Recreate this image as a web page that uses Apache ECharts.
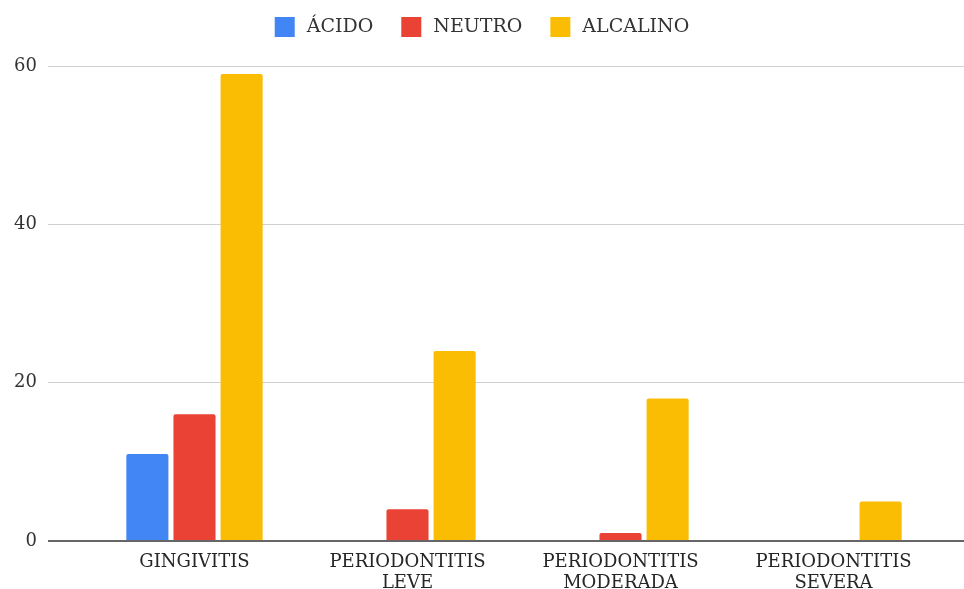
<!DOCTYPE html>
<html>
<head>
<meta charset="utf-8">
<script src="https://cdn.jsdelivr.net/npm/echarts@6/dist/echarts.min.js"></script>
<style>
  html, body { margin: 0; padding: 0; background: #fff; }
  #chart { width: 964px; height: 589px; }
</style>
</head>
<body>
<div id="chart"></div>
<script>
const categories = ['GINGIVITIS', 'PERIODONTITIS\nLEVE', 'PERIODONTITIS\nMODERADA', 'PERIODONTITIS\nSEVERA'];
const acido = [11, 0, 0, 0];
const neutro = [16, 4, 1, 0];
const alcalino = [59, 24, 18, 5];
const seriesNames = ['ÁCIDO', 'NEUTRO', 'ALCALINO'];
const colors = ['#4285F4', '#EA4335', '#FBBC04'];
const yMin = 0, yMax = 60, yStep = 20;

const FONT = 'DejaVu Serif';
const chart = echarts.init(document.getElementById('chart'));

function barSeries(name, data, color) {
  return {
    name, type: 'bar', data,
    xAxisIndex: 1, yAxisIndex: 1,
    barGap: '12%', barCategoryGap: '36%',
    itemStyle: { color, borderRadius: [2, 2, 0, 0] }
  };
}

chart.setOption({
  animation: false,
  textStyle: { fontFamily: FONT },
  legend: {
    top: 12, left: 'center',
    itemWidth: 20, itemHeight: 20, itemGap: 28,
    icon: 'rect',
    textStyle: { fontFamily: FONT, fontSize: 19, color: '#333', padding: [0, 0, 0, 7] },
    data: seriesNames
  },
  grid: [
    { left: 48, right: 0, top: 66, bottom: 48, outerBoundsMode: 'none' },
    { left: 88, right: 24, top: 66, bottom: 48, outerBoundsMode: 'none' }
  ],
  xAxis: [
    { type: 'value', gridIndex: 0, min: 0, max: 1, show: true,
      axisLine: { show: false }, axisTick: { show: false }, axisLabel: { show: false }, splitLine: { show: false } },
    { type: 'category', gridIndex: 1, data: categories,
      axisLine: { show: false }, axisTick: { show: false },
      axisLabel: { fontFamily: FONT, fontSize: 18, color: '#262626', margin: 11, lineHeight: 21, interval: 0 } }
  ],
  yAxis: [
    { type: 'value', gridIndex: 0, min: yMin, max: yMax, interval: yStep,
      axisLine: { show: false }, axisTick: { show: false },
      axisLabel: { fontFamily: FONT, fontSize: 18, color: '#333', margin: 11 },
      splitLine: { lineStyle: { color: '#d0d0d0', width: 1 } } },
    { type: 'value', gridIndex: 1, min: yMin, max: yMax, interval: yStep, show: false }
  ],
  series: [
    barSeries(seriesNames[0], acido, colors[0]),
    barSeries(seriesNames[1], neutro, colors[1]),
    barSeries(seriesNames[2], alcalino, colors[2]),
    {
      type: 'line', xAxisIndex: 0, yAxisIndex: 0, silent: true, symbol: 'none',
      data: [[0, 0], [1, 0]], lineStyle: { color: '#666', width: 2 }, z: 5
    }
  ]
});
</script>
</body>
</html>
